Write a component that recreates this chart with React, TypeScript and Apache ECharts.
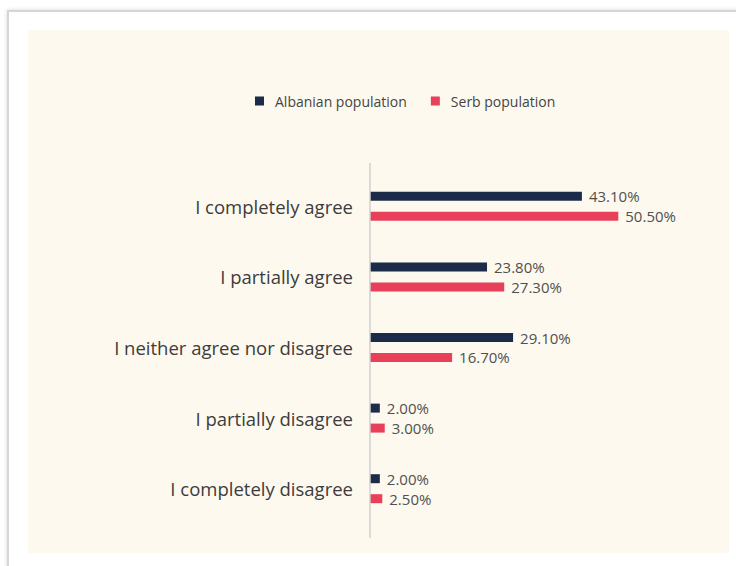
import React, { useEffect, useRef } from "react";
import * as echarts from "echarts";

const categories = [
  "I completely agree",
  "I partially agree",
  "I neither agree nor disagree",
  "I partially disagree",
  "I completely disagree",
];
const albanian = [43.1, 23.8, 29.1, 2.0, 2.0];
const serb = [50.5, 27.3, 16.7, 3.0, 2.5];
const seriesNames = ["Albanian population", "Serb population"];

const FONT = "'Open Sans', Lato, sans-serif";

export default function App() {
  const ref = useRef<HTMLDivElement>(null);
  useEffect(() => {
    if (!ref.current) return;
    const chart = echarts.init(ref.current, null, { renderer: "svg" });
    const label = {
      show: true,
      position: "right",
      distance: 7,
      fontSize: 15,
      fontFamily: FONT,
      color: "#505050",
      formatter: (p: any) => Number(p.value).toFixed(2) + "%",
    };
    chart.setOption({
      animation: false,
      backgroundColor: "#ffffff",
      graphic: [
        {
          type: "rect",
          z: -10,
          silent: true,
          shape: { x: 8, y: 11, width: 760, height: 600 },
          style: {
            fill: "#ffffff",
            stroke: "#d6d6d6",
            lineWidth: 2,
            shadowBlur: 4,
            shadowColor: "rgba(0,0,0,0.15)",
          },
        },
        {
          type: "rect",
          z: -9,
          silent: true,
          shape: { x: 28, y: 30, width: 701, height: 523 },
          style: { fill: "#fdf9ef" },
        },
        {
          type: "line",
          z: 10,
          silent: true,
          shape: { x1: 370, y1: 163, x2: 370, y2: 538 },
          style: { stroke: "#cfcfcf", lineWidth: 1.5 },
        },
      ],
      legend: {
        left: 250,
        top: 89,
        icon: "rect",
        itemWidth: 9,
        itemHeight: 9,
        itemGap: 24,
        data: seriesNames,
        textStyle: {
          fontSize: 14,
          fontFamily: FONT,
          color: "#444",
          padding: [0, 0, 0, 6],
        },
      },
      grid: { left: 370, right: 71, top: 171, height: 353, containLabel: false },
      xAxis: {
        type: "value",
        min: 0,
        max: 60,
        show: false,
      },
      yAxis: {
        type: "category",
        inverse: true,
        data: categories,
        axisLine: { show: false },
        axisTick: { show: false },
        axisLabel: {
          margin: 17,
          fontSize: 18.5,
          fontFamily: FONT,
          color: "#3c3c3c",
        },
      },
      series: [
        {
          name: seriesNames[0],
          type: "bar",
          data: albanian,
          barWidth: 9,
          barGap: "122%",
          itemStyle: { color: "#1b2b48" },
          label,
        },
        {
          name: seriesNames[1],
          type: "bar",
          data: serb,
          barWidth: 9,
          barGap: "122%",
          itemStyle: { color: "#e8405a" },
          label,
        },
      ],
    });
    return () => chart.dispose();
  }, []);
  return (
    <div
      ref={ref}
      style={{ position: "absolute", left: 0, top: 0, width: 736, height: 566 }}
    />
  );
}
